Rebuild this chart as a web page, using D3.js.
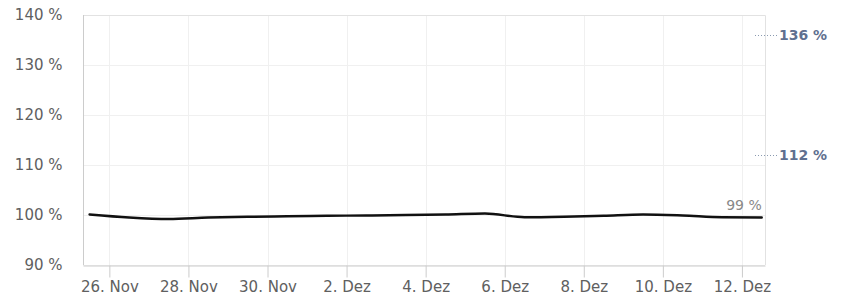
<!DOCTYPE html>
<html lang="de">
<head>
<meta charset="UTF-8">
<style>
  body { margin: 0; background: #fff; }
  svg text { font-family: "DejaVu Sans", sans-serif; }
  .grid line { stroke: #f0f0f0; }
  .axis text { fill: #606060; font-size: 15px; }
  .axis line, .axis path { stroke: #ccc; }
  .marker text { fill: #5f7090; font-size: 14px; font-weight: bold; }
  .marker line { stroke: #8a9ab0; stroke-dasharray: 1,2; }
</style>
<script src="https://cdnjs.cloudflare.com/ajax/libs/d3/7.8.5/d3.min.js"></script>
</head>
<body>
<svg id="chart"></svg>
<script>
// daily values, noon of each day
var days = ['2023-11-25','2023-11-26','2023-11-27','2023-11-28','2023-11-29','2023-11-30',
  '2023-12-01','2023-12-02','2023-12-03','2023-12-04','2023-12-05','2023-12-06',
  '2023-12-07','2023-12-08','2023-12-09','2023-12-10','2023-12-11','2023-12-12'];
var values = [100.1, 99.5, 99.2, 99.5, 99.65, 99.75, 99.85, 99.9, 100.0, 100.1, 100.3, 99.55,
  99.65, 99.85, 100.1, 99.9, 99.55, 99.5];
var yTicks = [90, 100, 110, 120, 130, 140];
var tickDays = ['2023-11-26','2023-11-28','2023-11-30','2023-12-02','2023-12-04','2023-12-06',
  '2023-12-08','2023-12-10','2023-12-12'];
var tickLabels = ['26. Nov','28. Nov','30. Nov','2. Dez','4. Dez','6. Dez','8. Dez','10. Dez','12. Dez'];
var markerValues = [136, 112];
var lastLabel = '99 %';

var width = 842, height = 296;
var margin = {top: 15, right: 77, bottom: 31, left: 83};

var parse = d3.utcParse('%Y-%m-%d');
var data = days.map(function(d, i) {
  return {date: d3.utcHour.offset(parse(d), 12), value: values[i]};
});
var ticks = tickDays.map(parse);

var svg = d3.select('#chart')
  .attr('width', width)
  .attr('height', height);

var xScale = d3.scaleUtc()
  .domain([d3.utcHour.offset(parse('2023-11-26'), -16), d3.utcHour.offset(parse('2023-12-12'), 14)])
  .range([margin.left, width - margin.right]);
var yScale = d3.scaleLinear()
  .domain([90, 140])
  .range([height - margin.bottom, margin.top]);

// grid
svg.append('g').attr('class', 'grid')
  .selectAll('line.h').data(yTicks).enter().append('line')
  .attr('x1', margin.left).attr('x2', width - margin.right)
  .attr('y1', function(d) { return yScale(d) + 0.5; })
  .attr('y2', function(d) { return yScale(d) + 0.5; });
svg.append('g').attr('class', 'grid')
  .selectAll('line.v').data(ticks).enter().append('line')
  .attr('y1', margin.top).attr('y2', height - margin.bottom)
  .attr('x1', function(d) { return Math.round(xScale(d)) + 0.5; })
  .attr('x2', function(d) { return Math.round(xScale(d)) + 0.5; });

// frame top / right
svg.append('path')
  .attr('d', 'M' + margin.left + ',' + (margin.top + 0.5) + 'H' + (width - margin.right + 0.5) + 'V' + (height - margin.bottom))
  .attr('fill', 'none')
  .attr('stroke', '#e2e2e2');

var xAxis = d3.axisBottom(xScale)
  .tickValues(ticks)
  .tickSize(12)
  .tickSizeOuter(0)
  .tickPadding(4)
  .tickFormat(function(d, i) { return tickLabels[i]; });
svg.append('g')
  .attr('class', 'axis axis-x')
  .attr('transform', 'translate(0,' + (height - margin.bottom + 0.5) + ')')
  .call(xAxis);

var yAxis = d3.axisLeft(yScale)
  .tickValues(yTicks)
  .tickSize(0)
  .tickPadding(21)
  .tickFormat(function(d) { return d + ' %'; });
svg.append('g')
  .attr('class', 'axis axis-y')
  .attr('transform', 'translate(' + (margin.left + 0.5) + ',0)')
  .call(yAxis);

svg.selectAll('.axis-y .domain').attr('d', 'M0,' + margin.top + 'V' + (height - margin.bottom));

// line
var line = d3.line()
  .x(function(d) { return xScale(d.date); })
  .y(function(d) { return yScale(d.value); })
  .curve(d3.curveMonotoneX);

svg.append('path')
  .datum(data)
  .attr('fill', 'none')
  .attr('stroke', '#111')
  .attr('stroke-width', 2.5)
  .attr('stroke-linecap', 'round')
  .attr('d', line);

var last = data[data.length - 1];
svg.append('text')
  .attr('x', xScale(last.date))
  .attr('y', yScale(last.value) - 8)
  .attr('text-anchor', 'end')
  .attr('fill', '#888')
  .attr('font-size', '14px')
  .text(lastLabel);

// markers on the right
var markers = svg.selectAll('.marker')
  .data(markerValues)
  .enter().append('g')
  .attr('class', 'marker')
  .attr('transform', function(d) { return 'translate(' + (width - margin.right) + ',' + yScale(d) + ')'; });
markers.append('line')
  .attr('x1', -10).attr('x2', 12)
  .attr('y1', 0.5).attr('y2', 0.5);
markers.append('text')
  .attr('x', 14)
  .attr('dy', '0.35em')
  .text(function(d) { return d + ' %'; });
</script>
</body>
</html>
